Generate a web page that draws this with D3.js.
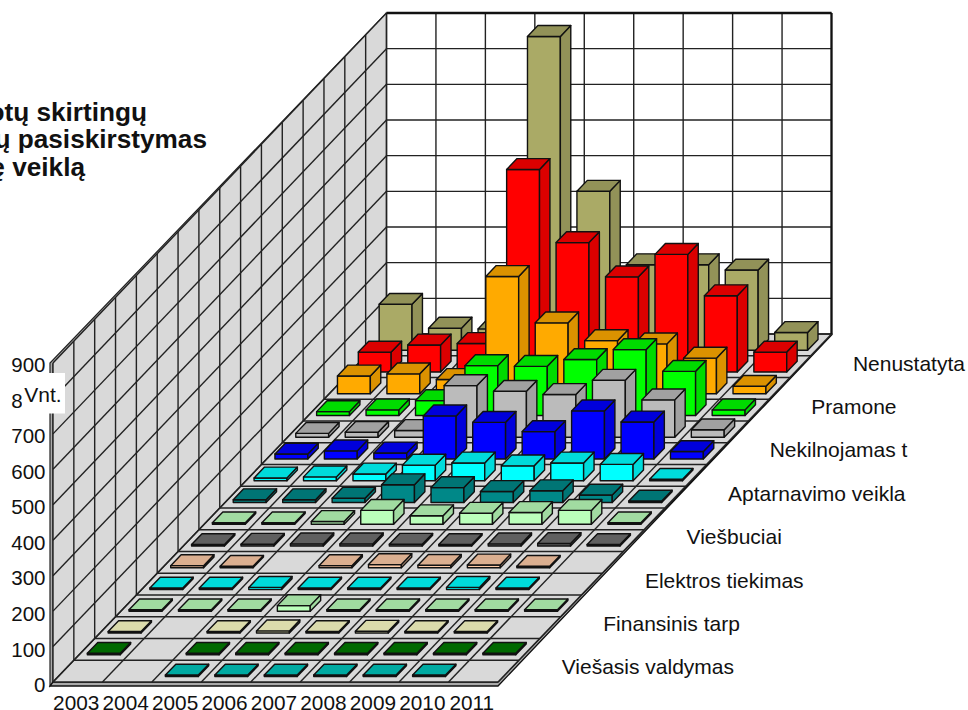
<!DOCTYPE html>
<html>
<head>
<meta charset="utf-8">
<script src="https://d3js.org/d3.v7.min.js"></script>
<style>
html, body { margin: 0; padding: 0; background: #fff; overflow: hidden; }
text { font-family: "Liberation Sans", Arial, sans-serif; fill: #111; }
</style>
</head>
<body>
<svg width="968" height="710"></svg>
<script>
"use strict";

var years = ["2003", "2004", "2005", "2006", "2007", "2008", "2009", "2010", "2011"];
var yTicks = [0, 100, 200, 300, 400, 500, 600, 700, 800, 900];
var titleLines = ["otų skirtingų", "ų pasiskirstymas", "ę veiklą"];

// depth rows, front to back; only every second one has a label on the chart
var rowLabels = ["Viešasis valdymas", "", "Finansinis tarp", "", "Elektros tiekimas", "", "Viešbuciai", "",
    "Aptarnavimo veikla", "", "Nekilnojamas t", "", "Pramone", "", "Nenustatyta", ""];

var row0 = [null, null, 1, 1, 1, 1, 1, 1, null];
var row1 = [1, null, 1, 1, 2, 1, 1, 2, 1];
var row2 = [1, null, 1, 6, 1, 5, 1, 1, null];
var row3 = [1, 1, 1, 16, 1, 1, 2, 1, 1];
var row4 = [3, 1, 6, 3, 1, 3, 6, 1, null];
var row5 = [6, 1, null, 6, 9, 7, 8, 3, null];
var row6 = [2, 5, 6, 6, 5, 4, 6, 7, 3];
var row7 = [1, 1, 8, 39, 24, 31, 33, 39, 1];
var row8 = [8, 8, 12, 50, 42, 31, 33, 21, 1];
var row9 = [8, 11, 19, 44, 50, 42, 50, 46, 4];
var row10 = [14, 23, 17, 121, 103, 77, 135, 104, 21];
var row11 = [11, 14, 19, 145, 129, 120, 160, 105, 21];
var row12 = [11, 16, 42, 140, 138, 157, 185, 124, 16];
var row13 = [50, 56, 40, 329, 199, 149, 140, 100, 21];
var row14 = [56, 76, 80, 568, 363, 267, 330, 214, 56];
var row15 = [129, 62, 60, 880, 446, 240, 240, 225, 50];
var rows = [row0, row1, row2, row3, row4, row5, row6, row7, row8, row9, row10, row11, row12, row13, row14, row15];

var rowColors = ["#00c6bc", "#007a00", "#ffffc8", "#bbffbb", "#00ffff", "#ffcca8", "#707070", "#bbffbb",
    "#008888", "#00ffff", "#0000ff", "#bbbbbb", "#00ff00", "#ffaa00", "#ff0000", "#aaaa66"];

window.onload = renderMyChart;

function renderMyChart() {
    var svg = d3.select("svg"),
        ox = 53, oy = 682,            // front left corner of the floor
        floorW = 445,
        depthX = 333.5, depthY = 348, // floor depth vector, px
        wallH = 321, frontH = 319,
        lineCol = "#222";

    var x = d3.scaleBand().domain(d3.range(years.length)).range([0, floorW]).paddingInner(0.335).paddingOuter(0.1675),
        z = d3.scaleBand().domain(d3.range(rows.length)).range([0, 1]).paddingInner(0.5).paddingOuter(0.25),
        y = d3.scaleLinear().domain([0, 900]).range([0, wallH]),
        yFront = d3.scaleLinear().domain([0, 900]).range([0, frontH]);

    function px(xv, d) { return ox + xv + d * depthX; }
    function py(d, h) { return oy - d * depthY - h; }
    function poly(pts) { return pts.map(function (p) { return p[0].toFixed(2) + "," + p[1].toFixed(2); }).join(" "); }

    var g = svg.append("g");

    // back wall
    g.append("polygon")
        .attr("points", poly([[px(0, 1), py(1, wallH)], [px(floorW, 1), py(1, wallH)], [px(floorW, 1), py(1, 0)], [px(0, 1), py(1, 0)]]))
        .attr("fill", "#fff");

    // left wall with a thin edge on it
    g.append("polygon")
        .attr("points", poly([[ox - 3, oy + 4], [ox - 3, oy - frontH], [px(0, 1), py(1, wallH)], [ox, oy - frontH + 1], [ox, oy]]))
        .attr("fill", "#aaa").attr("stroke", lineCol).attr("stroke-width", 1.2);
    g.append("polygon")
        .attr("points", poly([[ox, oy], [ox, oy - frontH], [px(0, 1), py(1, wallH)], [px(0, 1), py(1, 0)]]))
        .attr("fill", "#d9d9d9");

    // floor plate
    var floorEdge = 4;
    g.append("polygon")
        .attr("points", poly([[ox - 3, oy + floorEdge], [ox + floorW, oy + floorEdge], [px(floorW, 1) + 1, py(1, 0)], [ox + floorW, oy], [ox, oy]]))
        .attr("fill", "#aaa").attr("stroke", "#111").attr("stroke-width", 1.3);
    g.append("polygon")
        .attr("points", poly([[ox, oy], [ox + floorW, oy], [px(floorW, 1), py(1, 0)], [px(0, 1), py(1, 0)]]))
        .attr("fill", "#d9d9d9");

    // grid lines
    var grid = g.append("g").attr("stroke", lineCol).attr("stroke-width", 1.4).attr("fill", "none");
    var colEdges = d3.range(years.length + 1).map(function (i) { return i * floorW / years.length; });
    var rowEdges = d3.range(rows.length + 1).map(function (i) { return i / rows.length; });

    colEdges.forEach(function (c) {
        grid.append("line").attr("x1", px(c, 0)).attr("y1", py(0, 0)).attr("x2", px(c, 1)).attr("y2", py(1, 0));
        grid.append("line").attr("x1", px(c, 1)).attr("y1", py(1, 0)).attr("x2", px(c, 1)).attr("y2", py(1, wallH));
    });
    rowEdges.forEach(function (d) {
        var h = frontH + (wallH - frontH) * d;
        grid.append("line").attr("x1", px(0, d)).attr("y1", py(d, 0)).attr("x2", px(floorW, d)).attr("y2", py(d, 0));
        grid.append("line").attr("x1", px(0, d)).attr("y1", py(d, 0)).attr("x2", px(0, d)).attr("y2", py(d, h));
    });
    yTicks.forEach(function (t) {
        grid.append("line").attr("x1", px(0, 1)).attr("y1", py(1, y(t))).attr("x2", px(floorW, 1)).attr("y2", py(1, y(t)));
        grid.append("line").attr("x1", px(0, 0)).attr("y1", py(0, yFront(t))).attr("x2", px(0, 1)).attr("y2", py(1, y(t)));
    });
    // heavier top and right edge of the back wall
    grid.append("line").attr("x1", px(0, 1)).attr("y1", py(1, wallH)).attr("x2", px(floorW, 1)).attr("y2", py(1, wallH))
        .attr("stroke-width", 2.6).attr("stroke", "#111");
    grid.append("line").attr("x1", px(floorW, 1)).attr("y1", py(1, 0)).attr("x2", px(floorW, 1)).attr("y2", py(1, wallH))
        .attr("stroke-width", 2.2).attr("stroke", "#111");

    // bars, back row first so the front rows cover them
    d3.range(rows.length - 1, -1, -1).forEach(function (k) {
        var front = d3.rgb(rowColors[k]),
            shade = d3.rgb(front.r * 0.86, front.g * 0.86, front.b * 0.86).formatHex();
        var bars = g.append("g").attr("class", "row").attr("stroke", "#111").attr("stroke-width", 1.4).attr("stroke-linejoin", "round");

        rows[k].forEach(function (v, i) {
            if (v === null) return;
            var x0 = x(i), x1 = x(i) + x.bandwidth(),
                d0 = z(k), d1 = d0 + z.bandwidth(),
                h = Math.max(y(v), 1.5);
            bars.append("polygon").attr("fill", rowColors[k])
                .attr("points", poly([[px(x0, d0), py(d0, 0)], [px(x1, d0), py(d0, 0)], [px(x1, d0), py(d0, h)], [px(x0, d0), py(d0, h)]]));
            bars.append("polygon").attr("fill", shade)
                .attr("points", poly([[px(x1, d0), py(d0, 0)], [px(x1, d1), py(d1, 0)], [px(x1, d1), py(d1, h)], [px(x1, d0), py(d0, h)]]));
            bars.append("polygon").attr("fill", shade)
                .attr("points", poly([[px(x0, d0), py(d0, h)], [px(x1, d0), py(d0, h)], [px(x1, d1), py(d1, h)], [px(x0, d1), py(d1, h)]]));
        });
    });

    // value axis
    var yAxisScale = d3.scaleLinear().domain([0, 900]).range([685, 365]);
    var axisG = svg.append("g").attr("transform", "translate(45.5,0)")
        .call(d3.axisLeft(yAxisScale).tickValues(yTicks).tickSize(0).tickPadding(0).tickFormat(d3.format("d")));
    axisG.select(".domain").remove();
    axisG.selectAll("text").attr("font-size", 20.5).attr("font-family", "Liberation Sans").attr("fill", "#111");

    // unit label box sits on top of the 800 tick
    svg.append("rect").attr("x", 22).attr("y", 373).attr("width", 43).attr("height", 40.5).attr("fill", "#fff");
    svg.append("text").attr("x", 24.3).attr("y", 401.7).attr("font-size", 21).text("Vnt.");

    // year labels
    svg.append("g").selectAll("text").data(years).enter().append("text")
        .attr("x", function (d, i) { return ox + x(i) + x.bandwidth() / 2 - 1.5; })
        .attr("y", 709.5)
        .attr("text-anchor", "middle")
        .attr("font-size", 20.8)
        .text(function (d) { return d; });

    // row labels
    svg.append("g").selectAll("text").data(rowLabels).enter().append("text")
        .attr("x", function (d, i) { return 561.7 + i / 2 * 41.6; })
        .attr("y", function (d, i) { return 674.3 - i / 2 * 43.4; })
        .attr("font-size", 21)
        .text(function (d) { return d; });

    // title runs off the left side of the page
    svg.append("g").selectAll("text").data(titleLines).enter().append("text")
        .attr("x", function (d, i) { return [147, 207, 85][i]; })
        .attr("y", function (d, i) { return 121 + i * 27.3; })
        .attr("text-anchor", "end")
        .attr("font-size", 26.2)
        .attr("font-weight", "bold")
        .text(function (d) { return d; });
}
</script>
</body>
</html>
